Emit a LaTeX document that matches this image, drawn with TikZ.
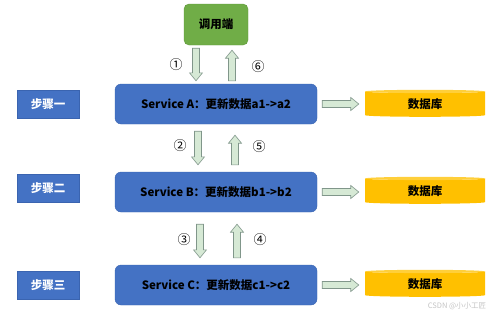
\documentclass[tikz,border=0pt]{standalone}
\usepackage{fontspec}
\setmainfont{Noto Sans CJK SC}
\usepackage{tikz}
\usetikzlibrary{arrows.meta,positioning,calc,shapes.geometric}
\definecolor{ServBlue}{HTML}{4472C4}
\definecolor{ServEdge}{HTML}{3A64B0}
\definecolor{CallGreen}{HTML}{70AD47}
\definecolor{CallEdge}{HTML}{5E9639}
\definecolor{DbGold}{HTML}{FFC000}
\definecolor{DbTop}{HTML}{FFCF3A}
\definecolor{FlowFill}{HTML}{D6E9D5}
\definecolor{FlowEdge}{HTML}{80968A}
\definecolor{MarkGray}{HTML}{C4C4C4}

\begin{document}
\begin{tikzpicture}[x=1pt,y=-1pt,every node/.style={font=\bfseries\fontsize{11.5}{13}\selectfont,align=center},
  service/.style={draw=ServEdge,fill=ServBlue,rounded corners=6pt,minimum width=202pt,minimum height=40pt},
  stepbox/.style={draw=ServEdge,fill=ServBlue,text=white,minimum width=62pt,minimum height=28pt},
  caller/.style={draw=CallEdge,fill=CallGreen,rounded corners=5pt,minimum width=64pt,minimum height=41pt},
  db/.style={cylinder,shape border rotate=90,aspect=0.08,minimum width=120pt,minimum height=27pt,
    cylinder uses custom fill,cylinder body fill=DbGold,cylinder end fill=DbTop,draw=none},
  numlabel/.style={font=\fontsize{13}{14}\selectfont},
  flow/.style={draw=FlowEdge,fill=FlowFill,line width=0.6pt,line join=miter,
    to path={($(\tikztotarget)!8pt!(\tikztostart)$) coordinate (fh)
      ($(\tikztostart)!3.5pt!90:(\tikztotarget)$) -- ($(fh)!3.5pt!90:(\tikztotarget)$)
      -- ($(fh)!6.5pt!90:(\tikztotarget)$) -- (\tikztotarget)
      -- ($(fh)!6.5pt!-90:(\tikztotarget)$) -- ($(fh)!3.5pt!-90:(\tikztotarget)$)
      -- ($(\tikztostart)!3.5pt!-90:(\tikztotarget)$) -- cycle}}]
  \useasboundingbox (0,0) rectangle (498,316);
  \node[caller] (caller) at (216,24.5) {调用端};
  \foreach \n/\y/\v/\sy/\dy/\txt in {A/104/a/104/104.5/步骤一,B/192/b/188.5/191.5/步骤二,C/285/c/285/284.5/步骤三}{
    \node[service] (srv\n) at (216,\y) {Service \n：更新数据\v1->\v2};
    \node[stepbox] (step\n) at (48,\sy) {\txt};
    \node[db] (db\n) at (425,\dy) {数据库};
    \coordinate (rs\n) at ($(srv\n.east)+(5,0)$);
    \coordinate (re\n) at ($(db\n.west |- srv\n.east)+(-6,0)$);
    \draw[flow] (rs\n) to (re\n);
  }
  % call chain
  \coordinate (d1s) at ($(caller.south)+(-20,3)$);
  \coordinate (d1e) at ($(srvA.north)+(-20,-3)$);
  \coordinate (u6s) at ($(srvA.north)+(16,-3)$);
  \coordinate (u6e) at ($(caller.south)+(16,5)$);
  \coordinate (d2s) at ($(srvA.south)+(-18,7)$);
  \coordinate (d2e) at ($(srvB.north)+(-18,-7)$);
  \coordinate (u5s) at ($(srvB.north)+(19,-7)$);
  \coordinate (u5e) at ($(srvA.south)+(19,11)$);
  \coordinate (d3s) at ($(srvB.south)+(-16,12)$);
  \coordinate (d3e) at ($(srvC.north)+(-16,-7)$);
  \coordinate (u4s) at ($(srvC.north)+(21,-7)$);
  \coordinate (u4e) at ($(srvB.south)+(21,12)$);
  \foreach \s/\e in {d1s/d1e,u6s/u6e,d2s/d2e,u5s/u5e,d3s/d3e,u4s/u4e}{
    \draw[flow] (\s) to (\e);
  }
  \node[numlabel] (n1) at (176,65) {①};
  \node[numlabel] (n6) at (258,67) {⑥};
  \node[numlabel] (n2) at (180,146) {②};
  \node[numlabel] (n5) at (259,147) {⑤};
  \node[numlabel] (n3) at (184,240) {③};
  \node[numlabel] (n4) at (260,240) {④};
  \node[font=\fontsize{7.5}{8}\selectfont,text=MarkGray] (mark) at (457,306) {CSDN @小小工匠};
\end{tikzpicture}
\end{document}
